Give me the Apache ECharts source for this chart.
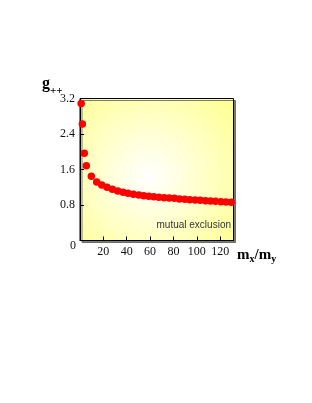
<!DOCTYPE html>
<html>
<head>
<meta charset="utf-8">
<style>html,body{margin:0;padding:0;background:#fff;}#c{width:312px;height:403px;}</style>
<script src="https://cdn.jsdelivr.net/npm/echarts@6/dist/echarts.min.js"></script>
</head>
<body>
<div id="c"></div>
<script>
// mx/my values (x)
var ratioValues = [1, 2, 3.7, 5.4, 9.7, 14.3, 18.6, 23.1, 27.7, 32.3, 36.9, 41.1, 45.7, 50.3, 54.6, 58.9,
  63.2, 67.5, 72, 76.3, 80.8, 85.1, 89.7, 94, 98.6, 102.9, 107.4, 111.7, 116, 120.6, 124.9, 129.4];
// g++ values
var gValues = [3.09, 2.625, 1.965, 1.686, 1.447, 1.318, 1.251, 1.199, 1.154, 1.115, 1.086, 1.064, 1.041, 1.025, 1.010, 0.996,
  0.987, 0.974, 0.965, 0.958, 0.951, 0.935, 0.928, 0.919, 0.913, 0.906, 0.897, 0.890, 0.883, 0.874, 0.868, 0.861];
var xTickLabels = [20, 40, 60, 80, 100, 120];
var yTickLabels = ['0.8', '1.6', '2.4', '3.2'];
var noteText = 'mutual exclusion';

var points = ratioValues.map(function (x, i) { return [x, gValues[i]]; });
var serif = '"Liberation Serif", "DejaVu Serif", serif';

var chart = echarts.init(document.getElementById('c'), null, {renderer: 'canvas'});
chart.setOption({
  animation: false,
  grid: {
    left: 80, right: 78.5, top: 98.5, bottom: 162.5,
    outerBoundsMode: 'none',
    show: true,
    borderColor: '#000', borderWidth: 1,
    backgroundColor: {
      type: 'radial', x: 0.45, y: 0.55, r: 0.85,
      colorStops: [{offset: 0, color: '#ffffff'}, {offset: 1, color: '#ffff88'}]
    },
    shadowColor: 'rgba(90,90,90,0.8)', shadowBlur: 0, shadowOffsetX: 2, shadowOffsetY: 2
  },
  xAxis: {
    type: 'value', min: 0, max: 131.4, interval: 20,
    splitLine: {show: false},
    axisLine: {show: true, lineStyle: {color: '#000', width: 1}},
    axisTick: {show: true, inside: true, length: 4, lineStyle: {color: '#000'}},
    axisLabel: {
      margin: 5, color: '#111', fontFamily: serif, fontSize: 12,
      showMinLabel: false, showMaxLabel: false,
      formatter: function (v) { return xTickLabels.indexOf(Math.round(v)) >= 0 && Math.abs(v - Math.round(v)) < 1e-6 ? String(Math.round(v)) : ''; }
    }
  },
  yAxis: {
    type: 'value', min: 0, max: 3.2, interval: 0.8,
    splitLine: {show: false},
    axisLine: {show: true, lineStyle: {color: '#000', width: 1}},
    axisTick: {show: true, inside: true, length: 4, lineStyle: {color: '#000'}},
    axisLabel: {
      margin: 5, color: '#111', fontFamily: serif, fontSize: 12,
      formatter: function (v) { var s = v.toFixed(1); return yTickLabels.indexOf(s) >= 0 ? s : ''; }
    }
  },
  series: [{
    type: 'scatter',
    data: points,
    symbol: 'circle',
    symbolSize: 7.5,
    itemStyle: {color: '#ff0000', opacity: 1},
    z: 5
  }],
  graphic: [
    {type: 'text', left: 70, top: 240, style: {text: '0', font: '12px ' + serif, fill: '#111'}},
    {type: 'text', left: 42, top: 76, style: {text: 'g', font: 'bold 16px ' + serif, fill: '#000'}},
    {type: 'text', left: 50, top: 86, style: {text: '++', font: 'bold 11px ' + serif, fill: '#000'}},
    {type: 'text', left: 237, top: 246, style: {
      text: '{m|m}{s|x}{m|/m}{s|y}',
      rich: {
        m: {font: 'bold 15px ' + serif, fill: '#000', verticalAlign: 'top', lineHeight: 16},
        s: {font: 'bold 10px ' + serif, fill: '#000', verticalAlign: 'bottom', lineHeight: 16, padding: [8, 0, 0, 0]}
      }
    }},
    {type: 'text', right: 312 - 231, top: 220, style: {text: noteText, font: '10px "Liberation Sans", Arial, sans-serif', fill: '#333'}}
  ]
});
</script>
</body>
</html>
